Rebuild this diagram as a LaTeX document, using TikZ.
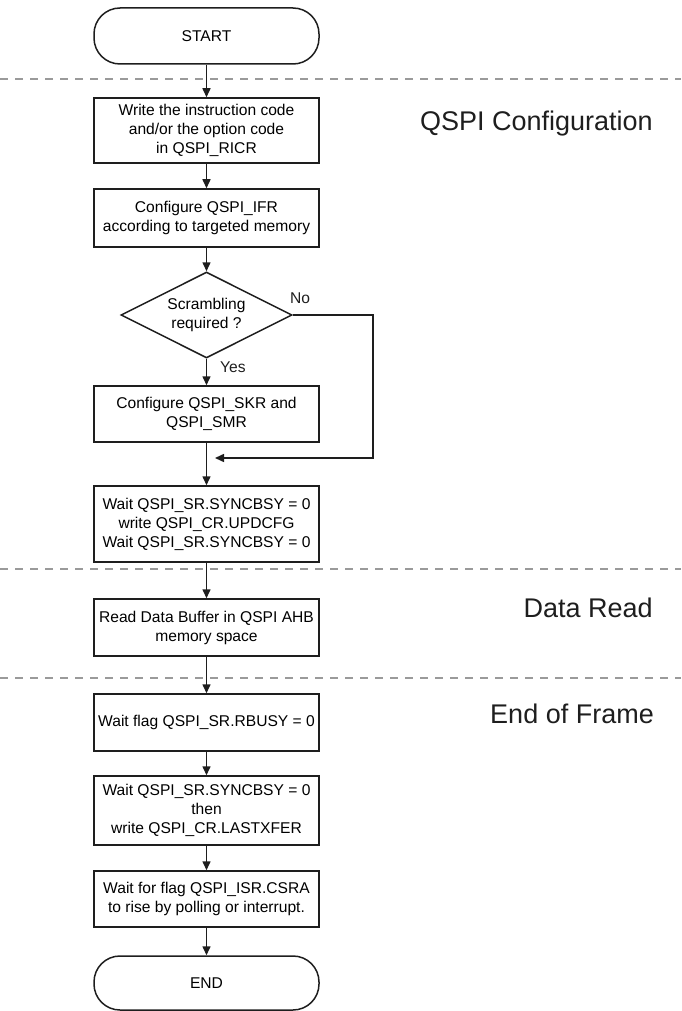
\documentclass[tikz,border=0pt]{standalone}
\usepackage{fontspec}
\setmainfont{Liberation Sans}
\usetikzlibrary{arrows.meta,positioning,shapes.geometric}
\definecolor{sepgray}{HTML}{9A9A9A}
\definecolor{ink}{HTML}{1E1E1E}

\begin{document}
\begin{tikzpicture}[x=1pt,y=-1pt,
    stepbox/.style={draw=ink,line width=1.5pt,minimum width=225pt,align=center,inner sep=2pt,font=\fontsize{15.6}{19}\selectfont},
    termbox/.style={stepbox,rounded corners=26pt},
    decbox/.style={draw=ink,diamond,aspect=2,line width=1.5pt,inner sep=0pt,minimum width=171pt,minimum height=86pt,align=center,font=\fontsize{15.6}{19}\selectfont},
    flow/.style={ink,line width=1.5pt,-{Triangle[length=9pt,width=8pt]}},
    lbl/.style={font=\fontsize{15.6}{19}\selectfont,text=ink,inner sep=0pt},
    phase/.style={font=\fontsize{27}{32}\selectfont,text=ink,anchor=base east,inner sep=0pt},
    sep/.style={sepgray,line width=1.5pt,dash pattern=on 8pt off 7pt}]
  \useasboundingbox (0,0) rectangle (681,1011);
  % phase separators
  \foreach \y in {79,569,678}
    \draw[sep] (0,\y) -- (681,\y);
  \node[phase] (cfg) at (653,131) {QSPI Configuration};
  \node[phase] (rd) at (653,617) {Data Read};
  \node[phase] (eof) at (654,723) {End of Frame};

  % flow steps
  \node[termbox,minimum height=56pt] (start) at (206.5,36) {START};
  \node[stepbox,minimum height=65pt] (icode) at (206.5,130.5) {Write the instruction code\\and/or the option code\\in QSPI\_RICR};
  \node[stepbox,minimum height=58pt] (ifr) at (206.5,218) {Configure QSPI\_IFR\\according to targeted memory};
  \node[decbox] (scr) at (206.5,315) {Scrambling\\required ?};
  \node[stepbox,minimum height=56pt] (skr) at (206.5,414) {Configure QSPI\_SKR and\\QSPI\_SMR};
  \coordinate (noturn) at (373,458);
  \coordinate (joinr) at (215,458);
  \node[stepbox,minimum height=76pt] (upd) at (206.5,524) {Wait QSPI\_SR.SYNCBSY = 0\\write QSPI\_CR.UPDCFG\\Wait QSPI\_SR.SYNCBSY = 0};
  \node[stepbox,minimum height=57pt] (read) at (206.5,627.5) {Read Data Buffer in QSPI AHB\\memory space};
  \node[stepbox,minimum height=57pt] (rbusy) at (206.5,722.5) {Wait flag QSPI\_SR.RBUSY = 0};
  \node[stepbox,minimum height=69pt] (last) at (206.5,810.5) {Wait QSPI\_SR.SYNCBSY = 0\\then\\write QSPI\_CR.LASTXFER};
  \node[stepbox,minimum height=56pt] (csra) at (206.5,899) {Wait for flag QSPI\_ISR.CSRA\\to rise by polling or interrupt.};
  \node[termbox,minimum height=54pt] (end) at (206.5,983) {END};

  % connectors
  \draw[flow] (start) -- (icode);
  \draw[flow] (icode) -- (ifr);
  \draw[flow] (ifr) -- (scr);
  \draw[flow] (scr) -- (skr);
  \node[lbl,anchor=base west] (yes) at (220,372) {Yes};
  \draw[flow] (scr.east) -| (noturn) -- (joinr);
  \node[lbl,anchor=base west] (no) at (290,303) {No};
  \draw[flow] (skr) -- (upd);
  \draw[flow] (upd) -- (read);
  \draw[flow] (read) -- (rbusy);
  \draw[flow] (rbusy) -- (last);
  \draw[flow] (last) -- (csra);
  \draw[flow] (csra) -- (end);
\end{tikzpicture}
\end{document}
